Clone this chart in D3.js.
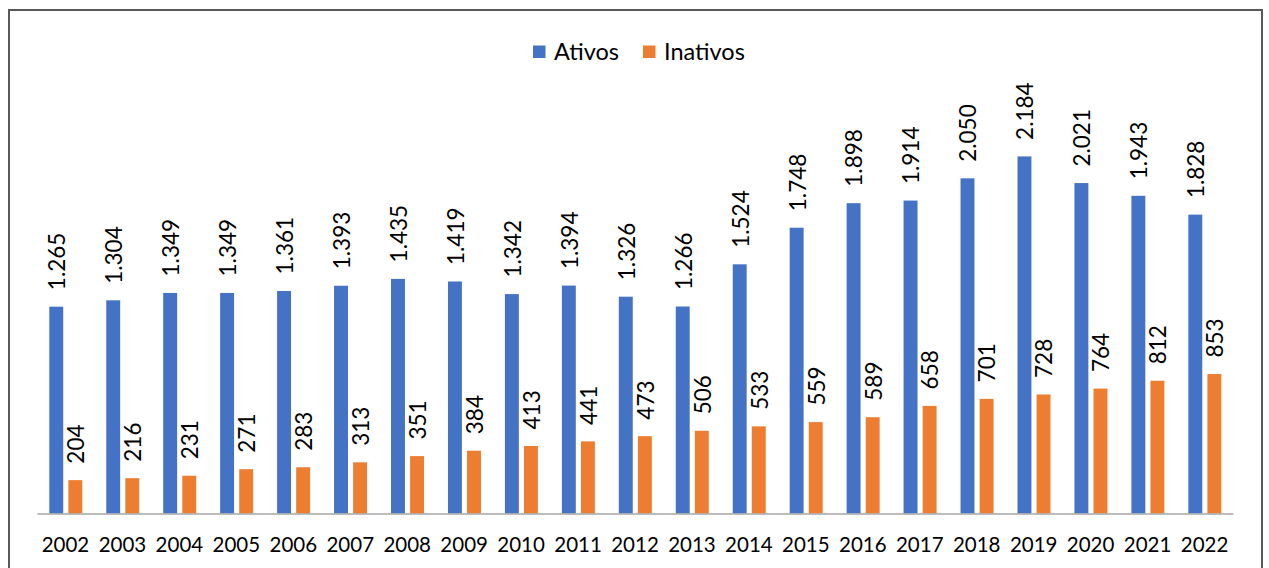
<!DOCTYPE html>
<html lang="pt-BR">
<head>
    <meta charset="utf-8">
    <title>Ativos e Inativos</title>
    <script src="https://d3js.org/d3.v7.min.js" charset="utf-8"></script>
    <style type="text/css">
        body { margin: 0; background: #fff; }
        svg { font-family: Lato, "Open Sans", sans-serif; }
    </style>
</head>
<body>
	<svg width="1269" height="568"></svg>
	<script>

	    // dados
	    var anos = ["2002","2003","2004","2005","2006","2007","2008","2009","2010","2011","2012",
	                "2013","2014","2015","2016","2017","2018","2019","2020","2021","2022"];
	    var ativos = [1265,1304,1349,1349,1361,1393,1435,1419,1342,1394,1326,
	                  1266,1524,1748,1898,1914,2050,2184,2021,1943,1828];
	    var inativos = [204,216,231,271,283,313,351,384,413,441,473,
	                    506,533,559,589,658,701,728,764,812,853];
	    var series = ["Ativos","Inativos"];
	    var cores = ["#4472C4","#ED7D31"];

	    var svg = d3.select("svg");
	    var base = 513.5;

	    var fmt = d3.formatLocale({decimal: ",", thousands: ".", grouping: [3], currency: ["R$", ""]}).format(",d");

	    // moldura
	    svg.append("rect")
	       .attr("x", 9).attr("y", 10)
	       .attr("width", 1253).attr("height", 580)
	       .attr("fill", "none")
	       .attr("stroke", "#595959")
	       .attr("stroke-width", 2);

	    var x0 = d3.scaleBand().domain(anos).range([37, 1233]).padding(0);
	    var x1 = d3.scaleBand().domain(series).range([12.3, 45.3]).paddingInner(0.27).paddingOuter(0);
	    var y = d3.scaleLinear().domain([0, 2500]).range([base, base - 0.1635 * 2500]);

	    var dados = anos.map(function(a, i) {
	        return {ano: a, valores: [{s: "Ativos", v: ativos[i]}, {s: "Inativos", v: inativos[i]}]};
	    });

	    var grupos = svg.selectAll("g.ano")
	        .data(dados)
	        .enter().append("g")
	        .attr("class", "ano")
	        .attr("transform", function(d) { return "translate(" + x0(d.ano) + ",0)"; });

	    grupos.selectAll("rect")
	        .data(function(d) { return d.valores; })
	        .enter().append("rect")
	        .attr("x", function(d) { return x1(d.s); })
	        .attr("y", function(d) { return y(d.v); })
	        .attr("width", x1.bandwidth())
	        .attr("height", function(d) { return base - y(d.v); })
	        .attr("fill", function(d, i) { return cores[i]; });

	    grupos.selectAll("text.rotulo")
	        .data(function(d) { return d.valores; })
	        .enter().append("text")
	        .attr("class", "rotulo")
	        .attr("transform", function(d) {
	            return "translate(" + (x1(d.s) + x1.bandwidth() / 2 + 1) + "," + (y(d.v) - 16.5) + ") rotate(-90)";
	        })
	        .attr("dy", "0.35em")
	        .attr("font-size", 22.5)
	        .attr("fill", "#000")
	        .text(function(d) { return fmt(d.v); });

	    // eixo x
	    var eixo = svg.append("g")
	        .attr("transform", "translate(0," + base + ")")
	        .call(d3.axisBottom(x0).tickSize(0).tickPadding(24));
	    eixo.select(".domain").attr("stroke", "#A6A6A6").attr("stroke-width", 1.5);
	    eixo.selectAll("text")
	        .attr("font-size", 20.5)
	        .attr("font-family", "Lato, 'Open Sans', sans-serif")
	        .attr("fill", "#000");

	    // legenda
	    var legX = [533, 643];
	    var leg = svg.append("g");
	    series.forEach(function(s, i) {
	        leg.append("rect")
	           .attr("x", legX[i]).attr("y", 45.5)
	           .attr("width", 12.5).attr("height", 12.5)
	           .attr("fill", cores[i]);
	        leg.append("text")
	           .attr("x", legX[i] + 21).attr("y", 51.5)
	           .attr("dy", "0.35em")
	           .attr("font-size", 23.5)
	           .attr("fill", "#000")
	           .text(s);
	    });

	</script>
</body>
</html>
